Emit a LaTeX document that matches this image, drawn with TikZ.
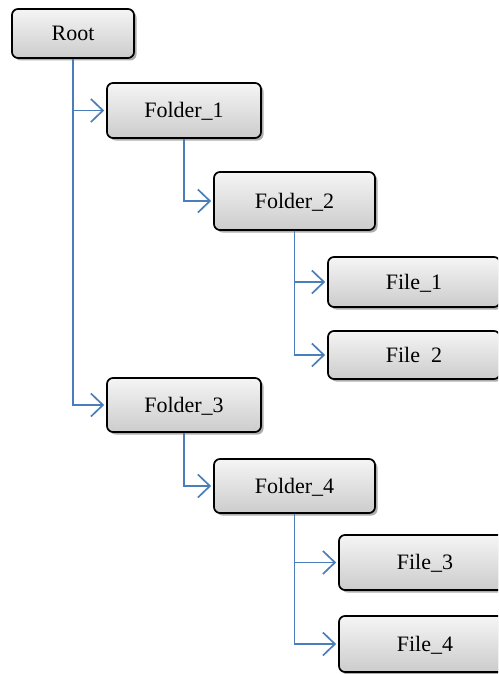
\documentclass[tikz,border=0pt]{standalone}
\usepackage{fontspec}
\setmainfont{Liberation Serif}
\usetikzlibrary{arrows.meta,shadows}
\definecolor{connblue}{RGB}{74,126,187}
\tikzset{
  box/.style={draw=black, line width=1.7pt, rounded corners=6pt,
    top color=gray!8, bottom color=gray!40,
    drop shadow={shadow xshift=2.5pt, shadow yshift=-2.5pt, fill=gray!75, opacity=0.85},
    font=\fontsize{22}{26}\selectfont, inner sep=0pt, anchor=center,
    text height=17pt, text depth=3pt},
  conn/.style={draw=connblue, line width=1.7pt,
    -{Straight Barb[length=12pt,width=23pt,line width=1.7pt]}, shorten >=2pt}
}
\begin{document}
\begin{tikzpicture}[x=1pt,y=-1pt]
\useasboundingbox (0,0) rectangle (498,674);
\clip (0,0) rectangle (498,674);
\node[box, minimum width=122pt, minimum height=49pt] (root) at (73,33.5) {Root};
\node[box, minimum width=154pt, minimum height=55pt] (f1) at (184,110.5) {Folder\_1};
\node[box, minimum width=161pt, minimum height=58pt] (f2) at (294.5,201) {Folder\_2};
\node[box, minimum width=172pt, minimum height=50pt] (file1) at (414,282) {File\_1};
\node[box, minimum width=172pt, minimum height=48pt] (file2) at (414,355) {File\ \ 2};
\node[box, minimum width=154pt, minimum height=54pt] (f3) at (184,405) {Folder\_3};
\node[box, minimum width=161pt, minimum height=54pt] (f4) at (294.5,486) {Folder\_4};
\node[box, minimum width=172pt, minimum height=55pt] (file3) at (425,562.5) {File\_3};
\node[box, minimum width=172pt, minimum height=56pt] (file4) at (425,644) {File\_4};
\draw[conn] (root.south) |- (f1.west);
\draw[conn] (root.south) |- (f3.west);
\draw[conn] (f1.south) |- (f2.west);
\draw[conn] (f2.south) |- (file1.west);
\draw[conn] (f2.south) |- (file2.west);
\draw[conn] (f3.south) |- (f4.west);
\draw[conn] (f4.south) |- (file3.west);
\draw[conn] (f4.south) |- (file4.west);
\end{tikzpicture}
\end{document}
